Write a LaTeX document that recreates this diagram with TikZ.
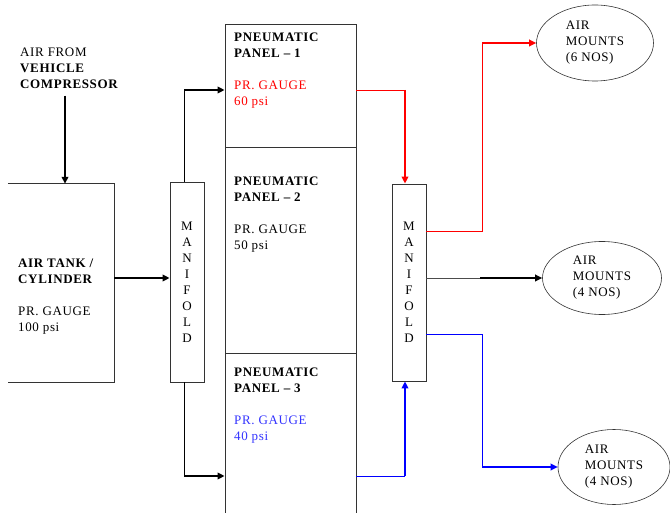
\documentclass[tikz,border=0pt]{standalone}
\usepackage{fontspec}
\setmainfont{Liberation Serif}[LetterSpace=5]
\usepackage{xcolor}
\usetikzlibrary{shapes.geometric, arrows.meta, positioning}
\definecolor{PipeRed}{HTML}{FF0000}
\definecolor{PipeBlue}{HTML}{0000FF}
\definecolor{GaugeBlue}{HTML}{3333FF}
\definecolor{EdgeGray}{HTML}{333333}
\tikzset{
    % Node styles
    panelbox/.style={
        rectangle,
        draw=EdgeGray,
        line width=0.8pt,
        minimum width=131pt,
        inner sep=0pt
    },
    manifoldbox/.style={
        rectangle,
        draw=EdgeGray,
        line width=0.8pt,
        minimum width=34pt,
        inner sep=0pt,
        align=center
    },
    mountnode/.style={
        ellipse,
        draw=EdgeGray,
        line width=0.6pt,
        inner sep=0pt,
        align=left
    },
    plaintext/.style={
        inner sep=0pt,
        align=left,
        anchor=north west
    },
    % Arrow styles
    pipe/.style={
        line width=0.8pt
    },
    flow/.style={
        -{Triangle[length=7pt,width=6.5pt]},
        line width=1.8pt
    }
}

\begin{document}
\begin{tikzpicture}[x=1pt, y=-1pt, font=\fontsize{13}{16}\selectfont]
    \useasboundingbox (0,0) rectangle (670,513);

    % Supply and tank
    \node[plaintext] (src) at (20,47.5) {AIR FROM\\\textbf{VEHICLE}\\\textbf{COMPRESSOR}};
    \node[rectangle, minimum width=106pt, minimum height=198pt] (tank) at (61,283) {};
    \draw[draw=EdgeGray, line width=0.8pt] (tank.north west) -- (tank.north east) -- (tank.south east) -- (tank.south west);
    \node[plaintext] (tanktext) at (18,258.5) {\textbf{AIR TANK /}\\\textbf{CYLINDER}\\[16pt]PR. GAUGE\\100 psi};

    % Manifolds
    \node[manifoldbox, minimum height=200pt] (manA) at (187,282) {M\\A\\N\\I\\F\\O\\L\\D};
    \node[manifoldbox, minimum height=197pt] (manB) at (409,282.5) {M\\A\\N\\I\\F\\O\\L\\D};

    % Pneumatic panels
    \node[panelbox, minimum height=123pt] (panA) at (290.5,85.5) {};
    \node[panelbox, minimum height=206pt] (panB) at (290.5,250) {};
    \node[panelbox, minimum height=177pt] (panC) at (290.5,441.5) {};
    \node[plaintext] (panAtext) at (234,32.5) {\textbf{PNEUMATIC}\\\textbf{PANEL -- 1}\\[16pt]\textcolor{PipeRed}{PR. GAUGE}\\\textcolor{PipeRed}{60 psi}};
    \node[plaintext] (panBtext) at (234,176.5) {\textbf{PNEUMATIC}\\\textbf{PANEL -- 2}\\[16pt]PR. GAUGE\\50 psi};
    \node[plaintext] (panCtext) at (234,367.5) {\textbf{PNEUMATIC}\\\textbf{PANEL -- 3}\\[16pt]\textcolor{GaugeBlue}{PR. GAUGE}\\\textcolor{GaugeBlue}{40 psi}};

    % Air mounts
    \node[mountnode, minimum width=117pt, minimum height=76pt] (mountA) at (595,43) {AIR\\MOUNTS\\(6 NOS)};
    \node[mountnode, minimum width=119pt, minimum height=73pt] (mountB) at (602,278) {AIR\\MOUNTS\\(4 NOS)};
    \node[mountnode, minimum width=112pt, minimum height=75pt] (mountC) at (614,467) {AIR\\MOUNTS\\(4 NOS)};

    % Bend points
    \coordinate (feedtop) at (184,90);
    \coordinate (feedbot) at (184,476);
    \coordinate (redtop) at (405,90);
    \coordinate (bluebot) at (405,476);
    \coordinate (redbend) at (482,43);
    \coordinate (bluebend) at (482,467);
    \coordinate (blackmid) at (480,278);
    \coordinate (tankout) at (114,278);

    % Arrows
    \draw[flow] ([yshift=-7pt]src.south -| 65,0) -- (tank.north -| 65,0);
    \draw[flow] (tankout) -- (tankout -| manA.west);
    \draw[pipe] (manA.north -| feedtop) -- (feedtop);
    \draw[flow] (feedtop) -- (feedtop -| panA.west);
    \draw[pipe] (manA.south -| feedbot) -- (feedbot);
    \draw[flow] (feedbot) -- (feedbot -| panC.west);
    \draw[pipe, PipeRed] (panA.east |- redtop) -- (redtop);
    \draw[flow, PipeRed, line width=2.4pt] (redtop) -- (redtop |- manB.north);
    \draw[pipe, PipeBlue] (panC.east |- bluebot) -- (bluebot);
    \draw[flow, PipeBlue, line width=2.4pt] (bluebot) -- (bluebot |- manB.south);
    \draw[pipe, PipeRed] ([yshift=51.5pt]manB.east) -| (redbend);
    \draw[flow, PipeRed] (redbend) -- (mountA.west);
    \draw[pipe, black!70] (manB.east |- blackmid) -- (blackmid);
    \draw[flow] (blackmid) -- (mountB.west);
    \draw[pipe, PipeBlue] ([yshift=-51.5pt]manB.east) -| (bluebend);
    \draw[flow, PipeBlue] (bluebend) -- (mountC.west);
\end{tikzpicture}
\end{document}
